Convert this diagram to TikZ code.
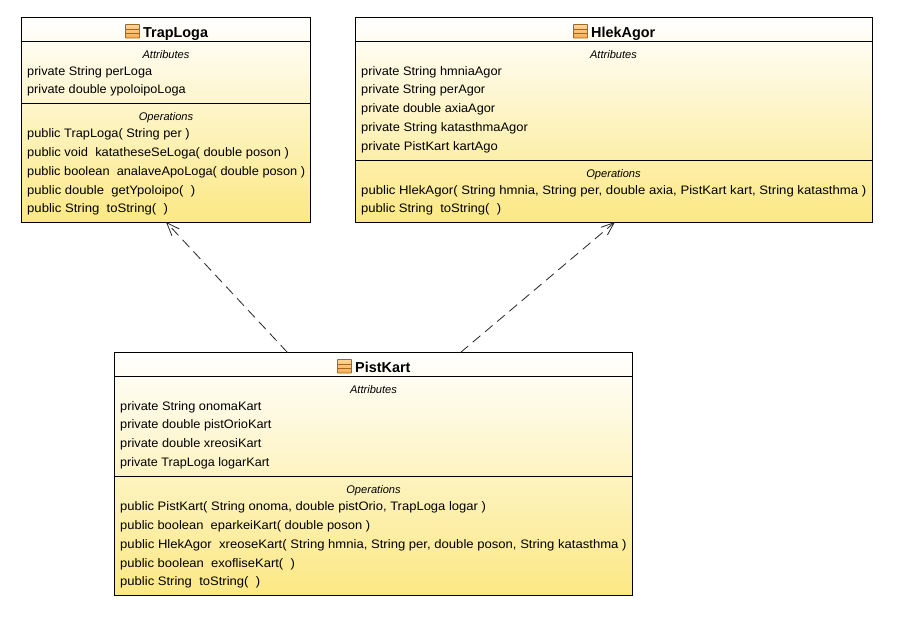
\documentclass[tikz,border=0pt]{standalone}
\usepackage{graphicx}
\usepackage{fontspec}
\setmainfont{Liberation Sans}
\usetikzlibrary{arrows.meta,calc}
\definecolor{umlframe}{HTML}{000000}
\definecolor{umltop}{HTML}{FFFFFF}
\definecolor{umlbot}{HTML}{FCE884}
\definecolor{icontop}{HTML}{FBD596}
\definecolor{iconbot}{HTML}{F5AE57}
\definecolor{iconedge}{HTML}{A5671F}
\tikzset{
  classbox/.style={draw=umlframe,line width=1pt,rectangle,inner sep=0pt,outer sep=0pt,top color=umltop,bottom color=umlbot},
  divider/.style={draw=umlframe,line width=1pt},
  titletext/.style={anchor=base west,inner sep=0pt,font=\fontsize{14.4}{14}\selectfont\bfseries},
  sectext/.style={anchor=base,inner sep=0pt,font=\fontsize{11.1}{12}\selectfont\itshape},
  membertext/.style={anchor=base west,inner sep=0pt,font=\fontsize{12.3}{14}\selectfont},
  dependency/.style={draw=black!85,line width=0.8pt,dash pattern=on 10pt off 6pt,-{Straight Barb[length=13pt,width=10pt,line width=0.8pt]}},
  iconbox/.style={draw=iconedge,line width=0.8pt,top color=icontop,bottom color=iconbot,rounded corners=0.5pt},
  iconline/.style={draw=iconedge,line width=0.8pt}
}
\newcommand{\umlicon}[2]{%
  \draw[iconbox] (#1,#2) rectangle ++(14,13.5);
  \draw[iconline] (#1,#2+4.5) -- ++(14,0) (#1,#2+9) -- ++(14,0);}
\newcommand{\umlclass}[7]{%
 % name, left, top, right, bottom, header y, divider y
 \node[classbox,minimum width=#4pt-#2pt,minimum height=#5pt-#3pt] (#1) at ({(#2+#4)/2},{(#3+#5)/2}) {};
 \draw[divider] (#2,#6) -- (#4,#6) (#2,#7) -- (#4,#7);}
% x, y, printed width, text
\newcommand{\mem}[4]{\node[membertext] at (#1,#2+4.2) {\resizebox{#3pt}{\height}{#4}};}
\newcommand{\secttl}[3]{\node[sectext] at (#1,#2+4) {#3};}
\begin{document}
\begin{tikzpicture}[x=1pt,y=-1pt]
\useasboundingbox[fill=white] (0,0) rectangle (900,643);
% TrapLoga
\umlclass{trap}{21.5}{17.5}{310.5}{222}{41.5}{103.5}
\umlicon{125.5}{24.5}
\node[titletext] (traptitle) at (143,37) {TrapLoga};
\secttl{166}{54}{Attributes}
\mem{27}{71}{125}{private String perLoga}
\mem{27}{89.5}{158.5}{private double ypoloipoLoga}
\secttl{166}{116}{Operations}
\mem{27}{133}{162.5}{public TrapLoga( String per )}
\mem{27}{152}{261.7}{public void\ \ katatheseSeLoga( double poson )}
\mem{27}{171}{278}{public boolean\ \ analaveApoLoga( double poson )}
\mem{27}{190}{168}{public double\ \ getYpoloipo(\ \ )}
\mem{27}{208.5}{140.7}{public String\ \ toString(\ \ )}
% HlekAgor
\umlclass{hlek}{355.5}{17.5}{872.5}{222}{41.5}{160.5}
\umlicon{573.5}{24.5}
\node[titletext] (hlektitle) at (591,37) {HlekAgor};
\secttl{613.5}{54}{Attributes}
\mem{361}{71}{140.7}{private String hmniaAgor}
\mem{361}{89.5}{124}{private String perAgor}
\mem{361}{108.5}{134}{private double axiaAgor}
\mem{361}{127.5}{166.7}{private String katasthmaAgor}
\mem{361}{146}{136.7}{private PistKart kartAgo}
\secttl{613.5}{173}{Operations}
\mem{361}{190}{505}{public HlekAgor( String hmnia, String per, double axia, PistKart kart, String katasthma )}
\mem{361}{208.5}{140}{public String\ \ toString(\ \ )}
% PistKart
\umlclass{pist}{114.5}{352.5}{632.5}{595.5}{376.5}{476.5}
\umlicon{337.5}{359.5}
\node[titletext] (pisttitle) at (355,372) {PistKart};
\secttl{373.5}{389}{Attributes}
\mem{120}{406}{141.3}{private String onomaKart}
\mem{120}{424.5}{151.3}{private double pistOrioKart}
\mem{120}{443.5}{141.3}{private double xreosiKart}
\mem{120}{462.5}{149.3}{private TrapLoga logarKart}
\secttl{373.5}{489}{Operations}
\mem{120}{506}{365.7}{public PistKart( String onoma, double pistOrio, TrapLoga logar )}
\mem{120}{525}{250}{public boolean\ \ eparkeiKart( double poson )}
\mem{120}{544}{506.3}{public HlekAgor\ \ xreoseKart( String hmnia, String per, double poson, String katasthma )}
\mem{120}{563}{174.7}{public boolean\ \ exofliseKart(\ \ )}
\mem{120}{581.5}{140}{public String\ \ toString(\ \ )}
% connectors
\draw[dependency] ($(pist.north west)!0.334!(pist.north east)$) -- (trap.south);
\draw[dependency] ($(pist.north west)!0.668!(pist.north east)$) -- ([xshift=1pt]hlek.south);
\end{tikzpicture}
\end{document}
